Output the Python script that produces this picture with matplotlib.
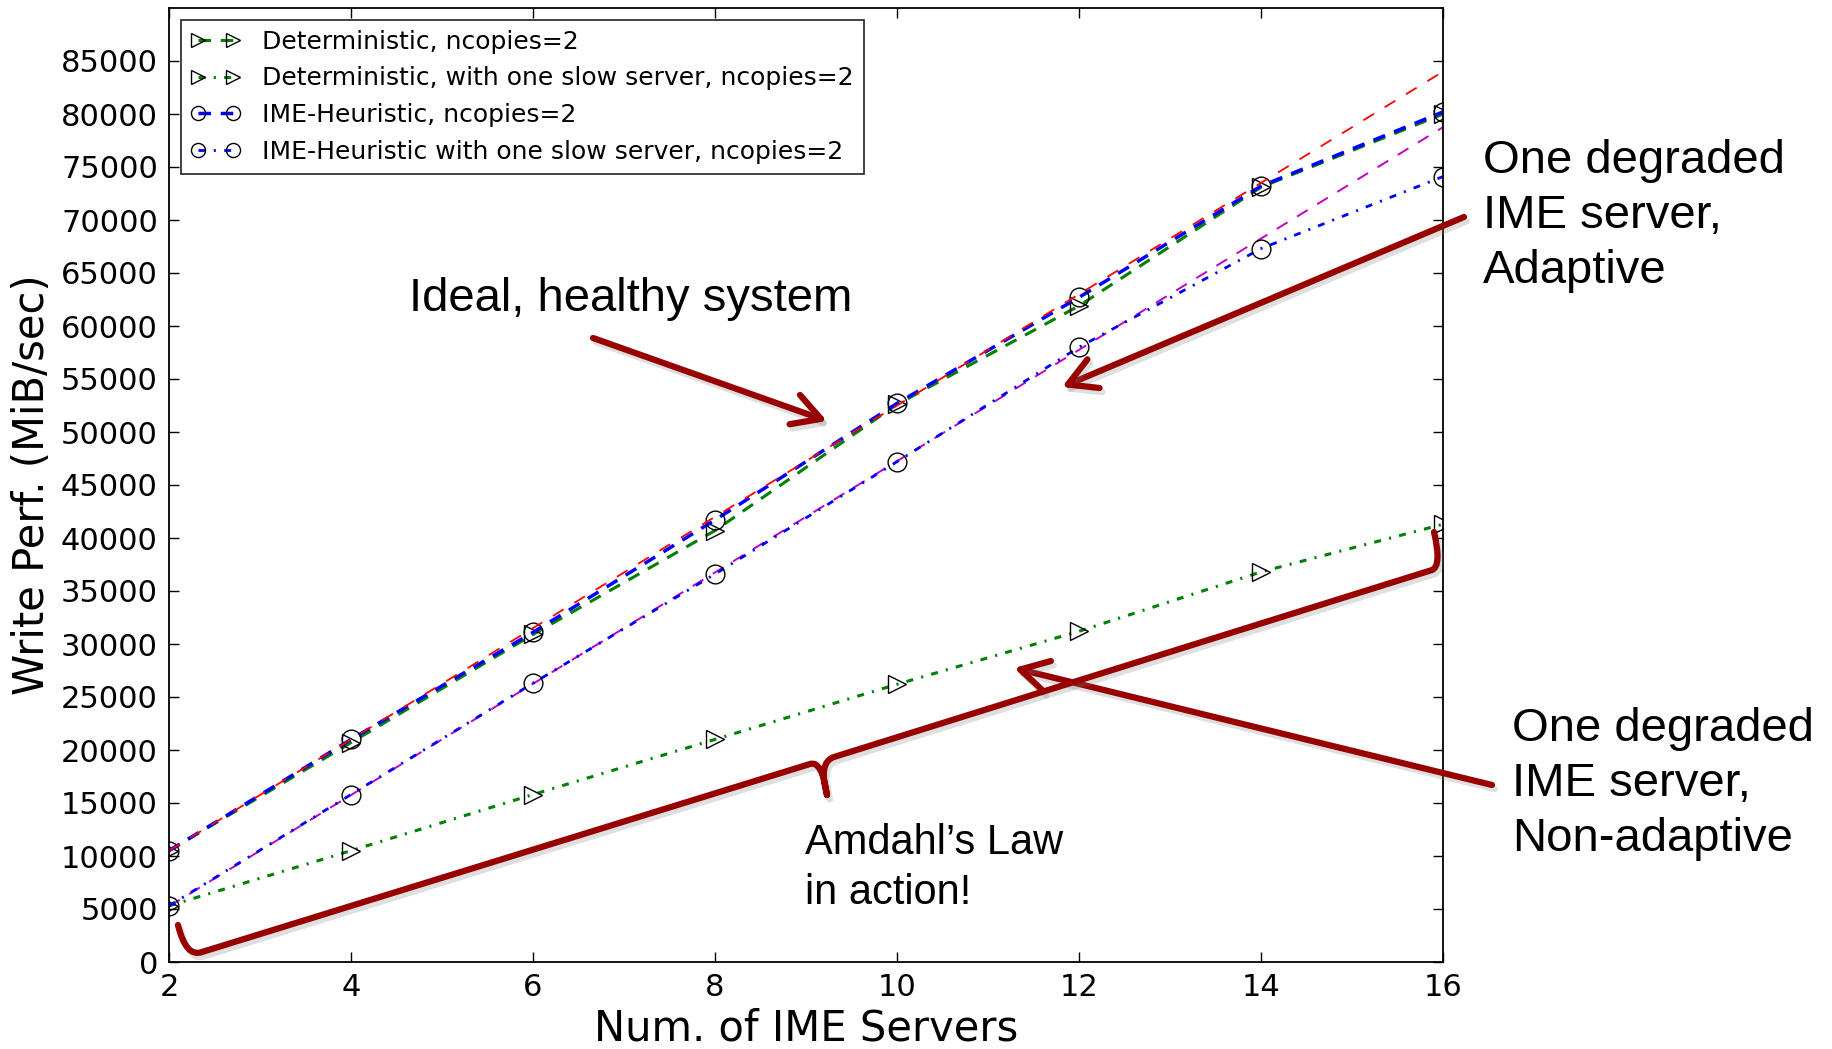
import matplotlib
matplotlib.use('Agg')
import matplotlib.pyplot as plt
import matplotlib.patheffects as pe
from matplotlib.patches import FancyArrowPatch, PathPatch
from matplotlib.path import Path

# data
servers = [2, 4, 6, 8, 10, 12, 14, 16]
det = [10500, 20700, 30900, 40700, 52600, 61900, 73100, 80000]
det_slow = [5300, 10500, 15800, 21000, 26200, 31200, 36800, 41300]
ime = [10500, 21000, 31100, 41700, 52700, 62700, 73200, 80200]
ime_slow = [5300, 15800, 26300, 36600, 47200, 58000, 67300, 74100]
ideal = [10500, 21000, 31500, 42000, 52500, 63000, 73500, 84000]
ideal_slow = [5250, 15750, 26250, 36750, 47250, 57750, 68250, 78750]

labels = ['Deterministic, ncopies=2',
          'Deterministic, with one slow server, ncopies=2',
          'IME-Heuristic, ncopies=2',
          'IME-Heuristic with one slow server, ncopies=2']
yticks = list(range(0, 90000, 5000))
xticks = [2, 4, 6, 8, 10, 12, 14, 16]

plt.rcParams.update({'font.family': 'DejaVu Sans', 'lines.scale_dashes': False})
W, H = 1833, 1049
fig = plt.figure(figsize=(W / 100, H / 100), dpi=100)
ax = fig.add_axes([169 / W, 1 - 962 / H, (1443 - 169) / W, (962 - 8) / H])

mk = dict(markersize=13.5, markerfacecolor='none', markeredgecolor='black', markeredgewidth=1)
ax.plot(servers, det, color='g', lw=2.2, dashes=(9, 7), marker='>', label=labels[0], **mk)
ax.plot(servers, det_slow, color='g', lw=2.2, dashes=(5, 6, 1.5, 6), marker='>', label=labels[1], **mk)
ax.plot(servers, ime, color='b', lw=2.5, dashes=(9, 7), marker='o', label=labels[2], **mk)
ax.plot(servers, ideal_slow, color='m', lw=1.4, dashes=(9, 8), zorder=1.9)
ax.plot(servers, ime_slow, color='b', lw=2.0, dashes=(5, 6, 1.5, 6), marker='o', label=labels[3], **mk)
ax.plot(servers, ideal, color='r', lw=1.3, dashes=(9, 9))

ax.set_xlim(2, 16)
ax.set_ylim(0, 90000)
ax.set_xticks(xticks)
ax.set_yticks(yticks)
ax.tick_params(direction='in', length=7, width=1, labelsize=22, pad=8,
               top=True, right=True)
for s in ax.spines.values():
    s.set_linewidth(1.3)
ax.set_xlabel('Num. of IME Servers', fontsize=30, labelpad=4)
ax.set_ylabel('Write Perf. (MiB/sec)', fontsize=30, labelpad=6)

leg = ax.legend(loc='upper left', bbox_to_anchor=(12 / 1274, 1 - 12 / 954), borderaxespad=0,
                fontsize=18, numpoints=2, markerscale=0.75, handlelength=2.0,
                handletextpad=0.85, labelspacing=0.5, borderpad=0.4, fancybox=False)
leg.get_frame().set_edgecolor('black')
leg.get_frame().set_linewidth(1.3)

# annotation layer in pixel coordinates
ov = fig.add_axes([0, 0, 1, 1], zorder=5)
ov.set_xlim(0, W)
ov.set_ylim(H, 0)
ov.axis('off')

red = '#980000'
shadow = [pe.SimpleLineShadow(offset=(2, -3), shadow_color='gray', alpha=0.25), pe.Normal()]
tfont = dict(family='Liberation Sans', color='black')

ov.text(409, 299, 'Ideal, healthy system', fontsize=34, ha='left', va='center', **tfont)
ov.text(1483, 216, 'One degraded\nIME server,\nAdaptive', fontsize=34, ha='left', va='center',
        linespacing=1.33, **tfont)
ov.text(1512, 784, 'One degraded\nIME server,\nNon-adaptive', fontsize=34, ha='left', va='center',
        linespacing=1.33, **tfont)
ov.text(805, 868, 'Amdahl\u2019s Law\nin action!', fontsize=30, ha='left', va='center',
        linespacing=1.35, **tfont)

for tail, head in [((593, 338), (827, 421)), ((1464, 217), (1062, 387)), ((1492, 785), (1014, 668))]:
    a = FancyArrowPatch(tail, head, arrowstyle='->,head_length=0.5,head_width=0.28',
                        mutation_scale=40, lw=4.5, color=red, capstyle='round',
                        joinstyle='round', shrinkA=0, shrinkB=0)
    a.set_path_effects(shadow)
    ov.add_patch(a)

# curly brace under the degraded curve
verts = [(178, 925), (186, 958), (202, 952), (810, 764), (822, 760), (827, 795),
         (827, 795), (818, 762), (834, 757), (1432, 570), (1442, 566), (1434, 532)]
codes = [Path.MOVETO, Path.CURVE3, Path.CURVE3, Path.LINETO, Path.CURVE3, Path.CURVE3,
         Path.MOVETO, Path.CURVE3, Path.CURVE3, Path.LINETO, Path.CURVE3, Path.CURVE3]
brace = PathPatch(Path(verts, codes), fill=False, lw=4.5, edgecolor=red,
                  capstyle='round', joinstyle='round')
brace.set_path_effects(shadow)
ov.add_patch(brace)

fig.savefig('out.png', dpi=100, facecolor='white')
